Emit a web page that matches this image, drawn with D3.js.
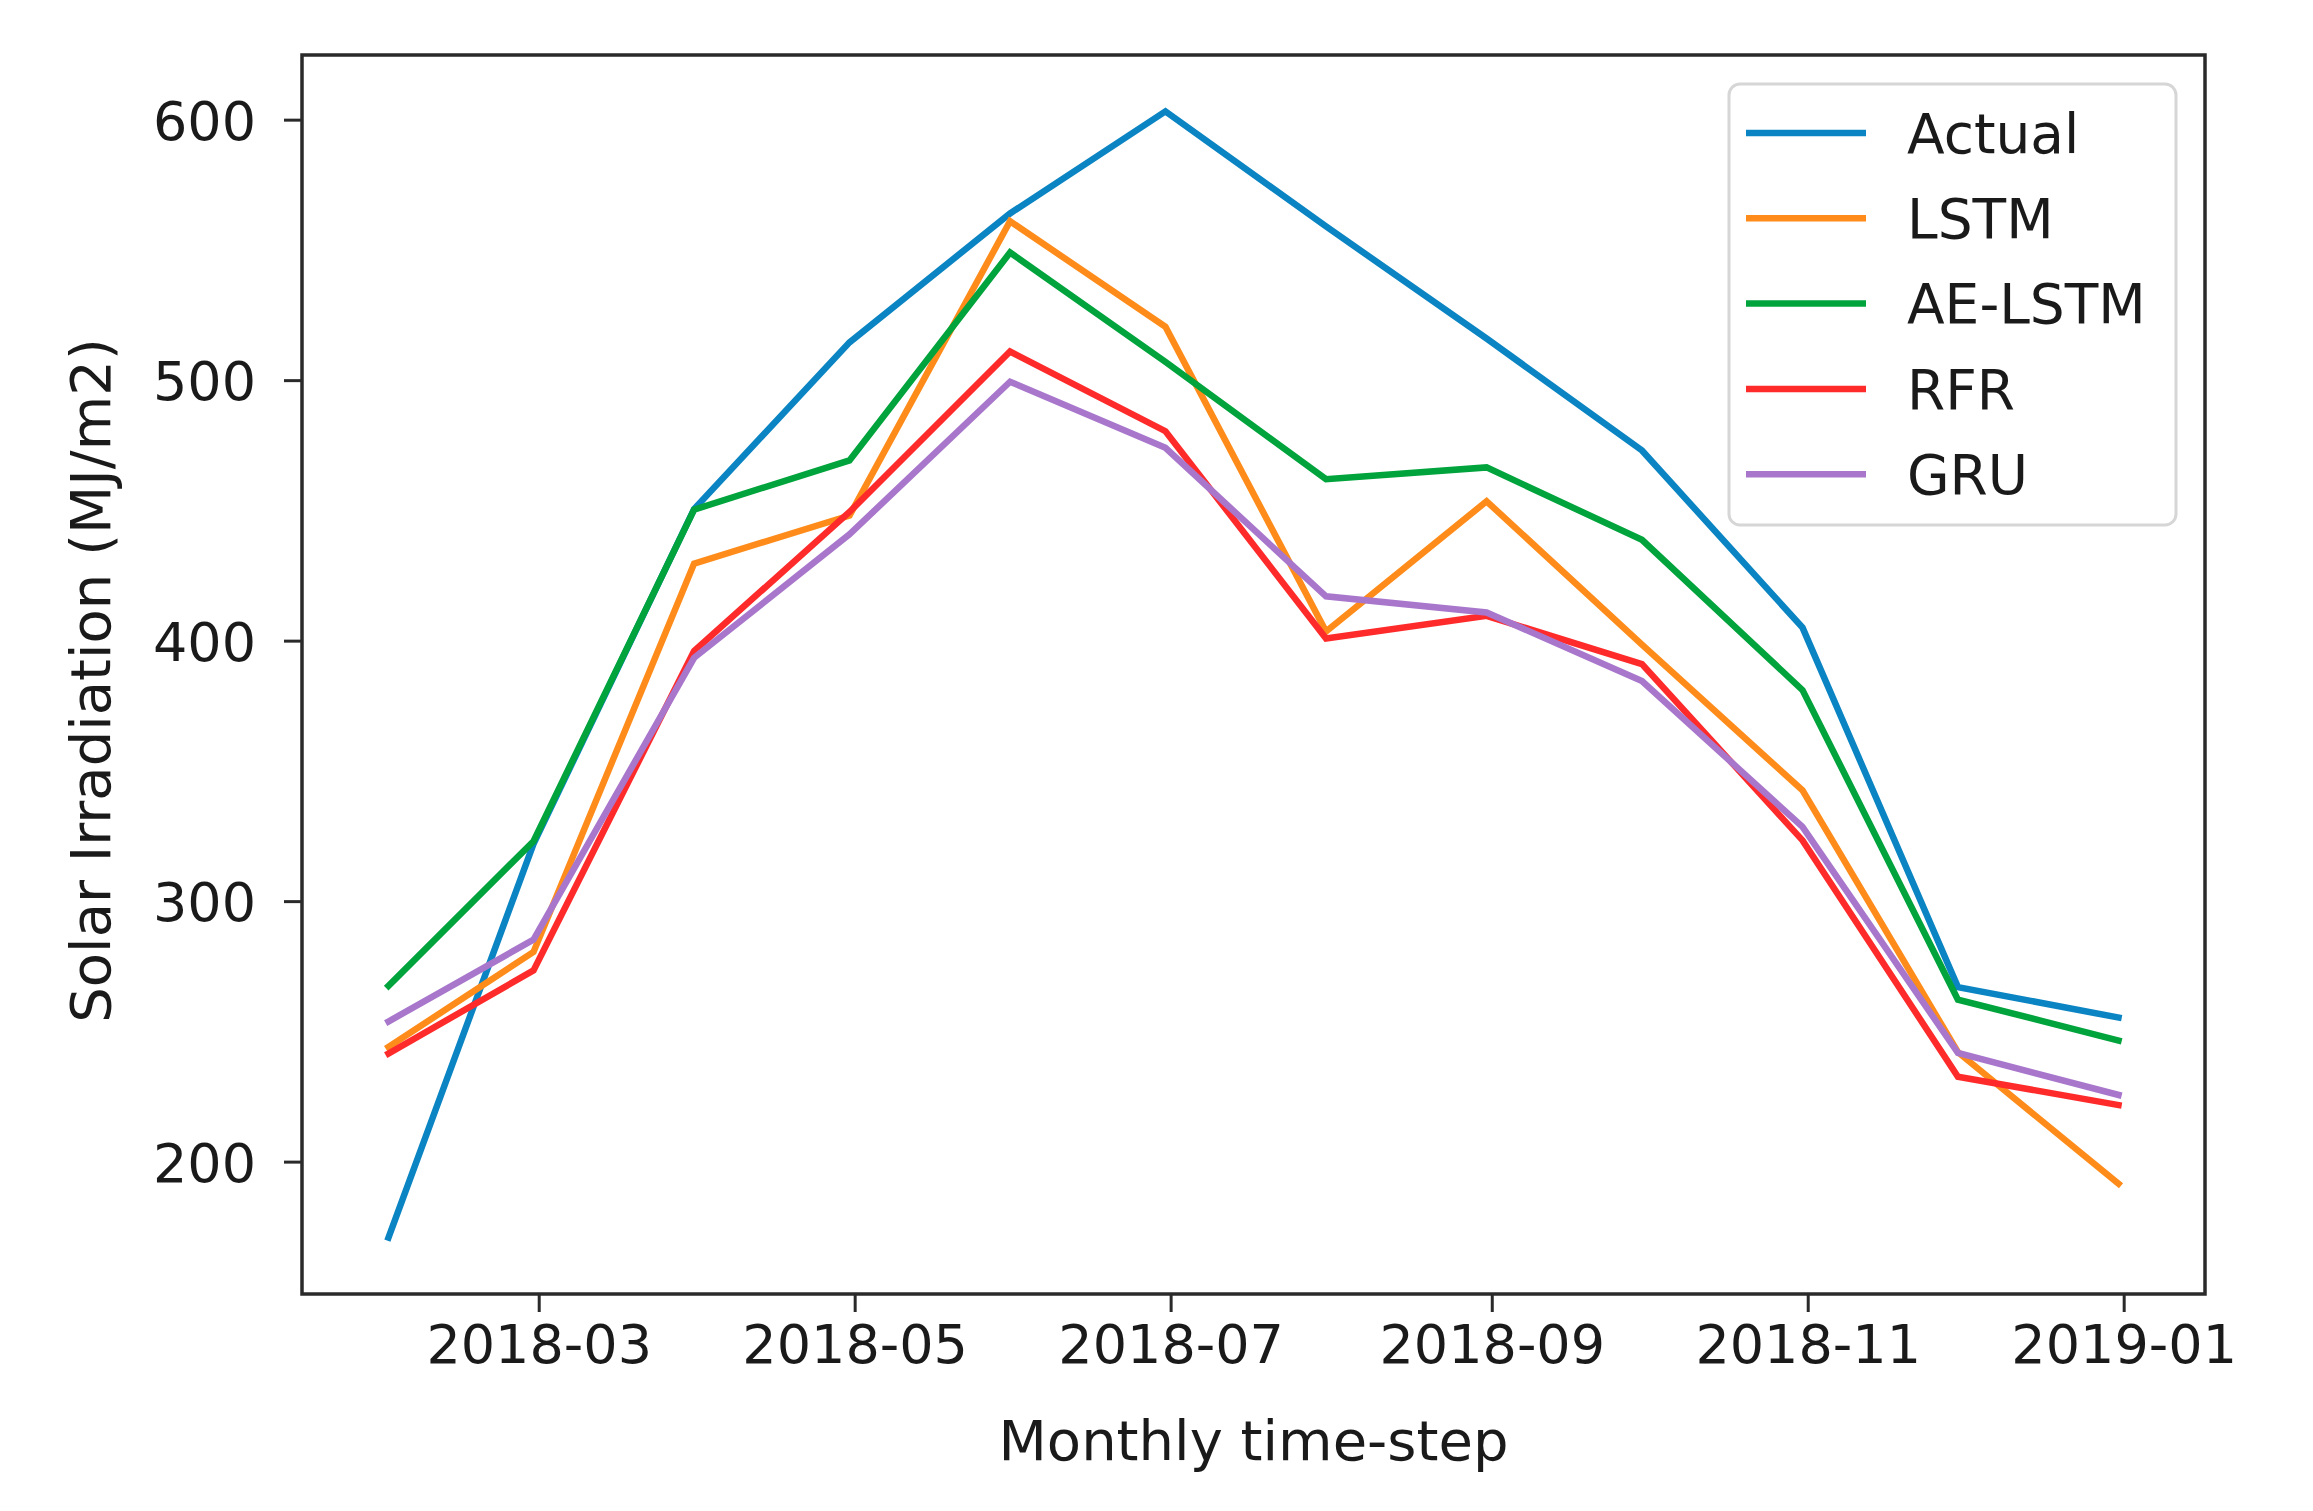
<!DOCTYPE html>
<html>
<head>
<meta charset="utf-8">
<script src="https://cdn.jsdelivr.net/npm/d3@7"></script>
<style>
  html, body { margin: 0; padding: 0; background: #ffffff; }
  svg { display: block; }
  text { font-family: "DejaVu Sans", sans-serif; fill: #1a1a1a; }
</style>
</head>
<body>
<svg id="chart" width="2313" height="1511"></svg>
<script>
// ---- Data ----
const dates = ["2018-01-31","2018-02-28","2018-03-31","2018-04-30","2018-05-31","2018-06-30",
               "2018-07-31","2018-08-31","2018-09-30","2018-10-31","2018-11-30","2018-12-31"];
const seriesNames = ["Actual", "LSTM", "AE-LSTM", "RFR", "GRU"];
const actual = [170.8, 322, 450.5, 514.5, 564, 603.2, 559, 516, 473, 405, 267, 255.3];
const lstm   = [244, 280.5, 429.6, 448, 561, 520.5, 403.5, 453.5, 398.5, 342.5, 242, 191.5];
const aeLstm = [267.5, 323, 450.3, 469.2, 549, 507, 462, 466.5, 438.7, 381, 262.2, 246.5];
const rfr    = [241.5, 273.4, 396, 449.4, 511, 480.4, 400.8, 409.5, 391, 323.3, 232.6, 221.7];
const gru    = [253.8, 285.2, 393.4, 440.8, 499.4, 474, 417, 410.8, 384.5, 328.5, 241.7, 225.6];
const seriesColors = ["#0a84c2", "#ff8c1a", "#00a33c", "#ff2b2b", "#a877cc"];
const xTickLabels = ["2018-03", "2018-05", "2018-07", "2018-09", "2018-11", "2019-01"];
const yTicks = [200, 300, 400, 500, 600];
const xLabel = "Monthly time-step";
const yLabel = "Solar Irradiation (MJ/m2)";

// ---- Layout ----
const plot = { left: 302, right: 2205, top: 55, bottom: 1294 };
const tickFont = 54;
const labelFont = 56;
const legendFont = 55;

const svg = d3.select("#chart");
const parseDay = d3.utcParse("%Y-%m-%d");
const parseMonth = d3.utcParse("%Y-%m");
const xs = dates.map(parseDay);
const allSeries = [actual, lstm, aeLstm, rfr, gru];

// matplotlib-like 5% margins
const xExt = d3.extent(xs);
const xPad = (xExt[1] - xExt[0]) * 0.05;
const x = d3.scaleUtc()
  .domain([new Date(+xExt[0] - xPad), new Date(+xExt[1] + xPad)])
  .range([plot.left, plot.right]);

const allVals = allSeries.flat();
const yMin = d3.min(allVals), yMax = d3.max(allVals);
const yPad = (yMax - yMin) * 0.05;
const y = d3.scaleLinear()
  .domain([yMin - yPad, yMax + yPad])
  .range([plot.bottom, plot.top]);

// ---- Lines ----
const line = d3.line()
  .x((d, i) => x(xs[i]))
  .y(d => y(d));

const lines = svg.append("g");
allSeries.forEach((s, k) => {
  lines.append("path")
    .datum(s)
    .attr("d", line)
    .attr("fill", "none")
    .attr("stroke", seriesColors[k])
    .attr("stroke-width", 6.5)
    .attr("stroke-linejoin", "miter")
    .attr("stroke-linecap", "square");
});

// ---- Axes ----
const axisColor = "#2a2a2a";
const xAxis = d3.axisBottom(x)
  .tickValues(xTickLabels.map(parseMonth))
  .tickFormat(d3.utcFormat("%Y-%m"))
  .tickSize(18)
  .tickPadding(10);
const gx = svg.append("g")
  .attr("transform", `translate(0,${plot.bottom})`)
  .call(xAxis);
gx.select(".domain").remove();
gx.selectAll(".tick line").attr("stroke", axisColor).attr("stroke-width", 3);
gx.selectAll(".tick text")
  .attr("font-size", tickFont)
  .attr("font-family", "DejaVu Sans")
  .attr("fill", "#1a1a1a")
  .attr("dy", "0.76em");

const yAxis = d3.axisLeft(y)
  .tickValues(yTicks)
  .tickSize(18)
  .tickPadding(28);
const gy = svg.append("g")
  .attr("transform", `translate(${plot.left},0)`)
  .call(yAxis);
gy.select(".domain").remove();
gy.selectAll(".tick line").attr("stroke", axisColor).attr("stroke-width", 3);
gy.selectAll(".tick text")
  .attr("font-size", tickFont)
  .attr("font-family", "DejaVu Sans")
  .attr("fill", "#1a1a1a")
  .attr("dy", "0.36em");

// frame
svg.append("rect")
  .attr("x", plot.left)
  .attr("y", plot.top)
  .attr("width", plot.right - plot.left)
  .attr("height", plot.bottom - plot.top)
  .attr("fill", "none")
  .attr("stroke", axisColor)
  .attr("stroke-width", 3.5);

// axis labels
svg.append("text")
  .attr("x", (plot.left + plot.right) / 2)
  .attr("y", 1460)
  .attr("text-anchor", "middle")
  .attr("font-size", labelFont)
  .text(xLabel);

svg.append("text")
  .attr("transform", `translate(110,${(plot.top + plot.bottom) / 2 + 6}) rotate(-90)`)
  .attr("text-anchor", "middle")
  .attr("font-size", labelFont)
  .text(yLabel);

// ---- Legend ----
const lg = svg.append("g");
lg.append("rect")
  .attr("x", 1729).attr("y", 84)
  .attr("width", 447).attr("height", 441)
  .attr("rx", 11).attr("ry", 11)
  .attr("fill", "#ffffff").attr("fill-opacity", 0.8)
  .attr("stroke", "#d6d6d6").attr("stroke-width", 3);
seriesNames.forEach((name, k) => {
  const cy = 133 + k * 85.3;
  lg.append("line")
    .attr("x1", 1746).attr("x2", 1866)
    .attr("y1", cy).attr("y2", cy)
    .attr("stroke", seriesColors[k])
    .attr("stroke-width", 6.5);
  lg.append("text")
    .attr("x", 1907).attr("y", cy)
    .attr("dy", "0.36em")
    .attr("font-size", legendFont)
    .text(name);
});
</script>
</body>
</html>
